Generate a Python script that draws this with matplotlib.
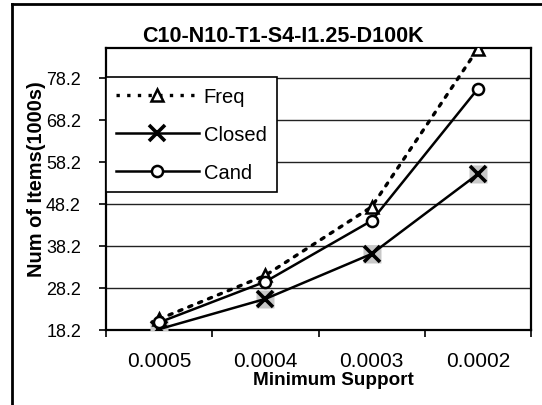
import matplotlib
matplotlib.use("Agg")
import matplotlib.pyplot as plt
from matplotlib.lines import Line2D

plt.rcParams['font.family'] = ['Liberation Sans', 'DejaVu Sans']

categories = ["0.0005", "0.0004", "0.0003", "0.0002"]
freq = [20.8, 31.2, 47.5, 85.1]
closed = [18.4, 25.6, 36.3, 55.3]
cand = [20.0, 29.7, 44.2, 75.6]
yticks = [18.2, 28.2, 38.2, 48.2, 58.2, 68.2, 78.2]

W, H = 542, 406
fig = plt.figure(figsize=(W/100, H/100), dpi=100)
ax = fig.add_axes([106/W, 1-331/H, (531-106)/W, (331-49)/H])

x = list(range(len(categories)))

ax.plot(x, freq, linestyle=(0, (1, 2.2)), color='black', lw=2.4,
        marker='^', markersize=8, markerfacecolor='white', markeredgecolor='black',
        markeredgewidth=1.8, dash_capstyle='round', label='Freq', zorder=4)
# gray shaded squares behind Closed markers
ax.plot(x, closed, linestyle='none', marker='s', markersize=13,
        markerfacecolor='#c8c8c8', markeredgecolor='none', zorder=3)
ax.plot(x, closed, linestyle='-', color='black', lw=1.8,
        marker='x', markersize=11, markeredgewidth=2.6, label='Closed', zorder=4)
ax.plot(x, cand, linestyle='-', color='black', lw=1.8,
        marker='o', markersize=8, markerfacecolor='white', markeredgecolor='black',
        markeredgewidth=1.8, label='Cand', zorder=4)

ax.set_xlim(-0.5, 3.5)
ax.set_ylim(18.2, 85.3)
ax.set_yticks(yticks)
ax.set_yticklabels([f"{v:.1f}" for v in yticks], fontsize=13)
ax.set_xticks([-0.5, 0.5, 1.5, 2.5, 3.5], minor=False)
ax.set_xticklabels([])
ax.set_xticks(x, minor=True)
ax.set_xticklabels(categories, minor=True, fontsize=15)
ax.tick_params(axis='x', which='minor', length=0, pad=15)
ax.tick_params(axis='x', which='major', length=5, width=1.2, direction='out')
ax.tick_params(axis='y', length=5, width=1.2, direction='out', pad=13)

ax.yaxis.grid(True, color='#222222', lw=1.0)
ax.set_axisbelow(True)
for s in ax.spines.values():
    s.set_linewidth(1.6)
    s.set_color('black')

fig.text(333/W, 1-381/H, "Minimum Support", ha='center', va='center',
         fontsize=13.6, fontweight='bold')
fig.text(37/W, 1-179/H, "Num of Items(1000s)", ha='center', va='center',
         rotation=90, fontsize=14.4, fontweight='bold')
fig.text(283/W, 1-36/H, "C10-N10-T1-S4-I1.25-D100K", ha='center', va='center',
         fontsize=15.5, fontweight='bold')

handles = [
    Line2D([], [], linestyle=(0, (1, 2.2)), color='black', lw=2.4, marker='^', markersize=8,
           markerfacecolor='white', markeredgewidth=1.8),
    Line2D([], [], linestyle='-', color='black', lw=1.8, marker='x', markersize=11,
           markeredgewidth=2.6),
    Line2D([], [], linestyle='-', color='black', lw=1.8, marker='o', markersize=8,
           markerfacecolor='white', markeredgewidth=1.8),
]
leg = ax.legend(handles, ['Freq', 'Closed', 'Cand'], loc='upper left',
                bbox_to_anchor=(0.0, 1-(78-49)/(331-49)), fontsize=14.5,
                frameon=True, fancybox=False, edgecolor='black', framealpha=1,
                handlelength=4.1, handletextpad=0.25, labelspacing=0.95,
                borderpad=0.5, borderaxespad=0.0)
leg.get_frame().set_linewidth(1.2)
leg.set_zorder(5)

# outer frame lines
fig.add_artist(Line2D([12/W, 12/W], [0, 1-5/H], transform=fig.transFigure, color='black', lw=2))
fig.add_artist(Line2D([12/W, 1], [1-5/H, 1-5/H], transform=fig.transFigure, color='black', lw=2))

fig.savefig("out.png", dpi=100)
